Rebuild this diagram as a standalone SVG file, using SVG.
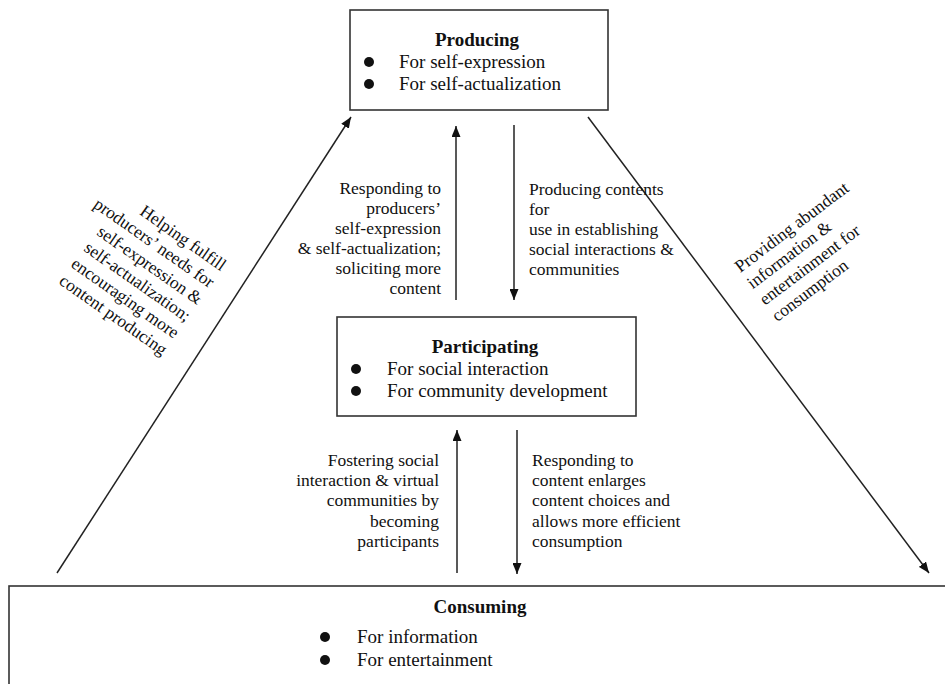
<svg xmlns="http://www.w3.org/2000/svg" width="945" height="684" viewBox="0 0 945 684">
<style>
.box{fill:#fff;stroke:#333;stroke-width:1.6}
.t{font-family:"Liberation Serif","Times New Roman",serif;font-size:19px;fill:#111}
.b{font-weight:bold}
.l{font-family:"Liberation Serif","Times New Roman",serif;font-size:17.5px;fill:#111}
.c{stroke:#222;stroke-width:1.5;fill:none;marker-end:url(#ah)}
.dot{fill:#111}
</style>
<defs>
<marker id="ah" viewBox="0 0 10 10" refX="10" refY="5" markerWidth="11" markerHeight="9" orient="auto" markerUnits="userSpaceOnUse" preserveAspectRatio="none">
<path d="M0,0 L10,5 L0,10 z" fill="#111"/>
</marker>
</defs>
<g id="connectors">
<line class="c" x1="57" y1="573" x2="351" y2="117"/>
<line class="c" x1="588" y1="117" x2="929" y2="573"/>
<line class="c" x1="456" y1="300" x2="456" y2="126"/>
<line class="c" x1="514" y1="125" x2="514" y2="300"/>
<line class="c" x1="457" y1="573" x2="457" y2="430"/>
<line class="c" x1="517" y1="430" x2="517" y2="574"/>
</g>
<g id="producing">
<rect class="box" x="350" y="10" width="258" height="100"/>
<text class="t b" x="477" y="46" text-anchor="middle">Producing</text>
<circle class="dot" cx="369" cy="62" r="5"/>
<circle class="dot" cx="369" cy="84" r="5"/>
<text class="t" x="399" y="68">For self-expression</text>
<text class="t" x="399" y="90">For self-actualization</text>
</g>
<g id="participating">
<rect class="box" x="337" y="317" width="299" height="99"/>
<text class="t b" x="485" y="353" text-anchor="middle">Participating</text>
<circle class="dot" cx="356" cy="369" r="5"/>
<circle class="dot" cx="356" cy="391" r="5"/>
<text class="t" x="387" y="375">For social interaction</text>
<text class="t" x="387" y="397">For community development</text>
</g>
<g id="consuming">
<rect class="box" x="9" y="586" width="950" height="120"/>
<text class="t b" x="480" y="613" text-anchor="middle">Consuming</text>
<circle class="dot" cx="325" cy="637" r="5"/>
<circle class="dot" cx="325" cy="660" r="5"/>
<text class="t" x="357" y="643">For information</text>
<text class="t" x="357" y="666">For entertainment</text>
</g>
<g id="label-up-left" class="l" text-anchor="end">
<text x="441" y="194">Responding to</text>
<text x="441" y="214">producers’</text>
<text x="441" y="234">self-expression</text>
<text x="441" y="254">&amp; self-actualization;</text>
<text x="441" y="274">soliciting more</text>
<text x="441" y="294">content</text>
</g>
<g id="label-down-right" class="l">
<text x="529" y="195">Producing contents</text>
<text x="529" y="215">for</text>
<text x="529" y="235">use in establishing</text>
<text x="529" y="255">social interactions &amp;</text>
<text x="529" y="275">communities</text>
</g>
<g id="label-low-left" class="l" text-anchor="end">
<text x="439" y="466">Fostering social</text>
<text x="439" y="486">interaction &amp; virtual</text>
<text x="439" y="506">communities by</text>
<text x="439" y="527">becoming</text>
<text x="439" y="547">participants</text>
</g>
<g id="label-low-right" class="l">
<text x="532" y="466">Responding to</text>
<text x="532" y="486">content enlarges</text>
<text x="532" y="506">content choices and</text>
<text x="532" y="527">allows more efficient</text>
<text x="532" y="547">consumption</text>
</g>
<g id="label-left-diag" class="l" text-anchor="end" transform="translate(135.8,280) rotate(35)">
<text x="65" y="-55.8">Helping fulfill</text>
<text x="65" y="-35.2">producers’ needs for</text>
<text x="65" y="-14.6">self-expression &amp;</text>
<text x="65" y="6">self-actualization;</text>
<text x="65" y="26.6">encouraging more</text>
<text x="65" y="47.2">content producing</text>
</g>
<g id="label-right-diag" class="l" transform="translate(791.7,226.7) rotate(-37)">
<text x="-69" y="6">Providing abundant</text>
<text x="-69" y="26.5">information &amp;</text>
<text x="-69" y="47">entertainment for</text>
<text x="-69" y="67.5">consumption</text>
</g>
</svg>
